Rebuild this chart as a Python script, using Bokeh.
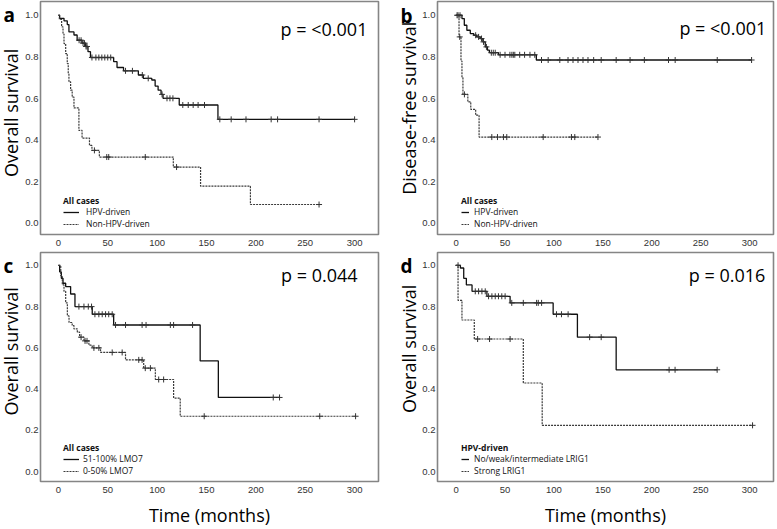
import numpy as np
from bokeh.plotting import figure
from bokeh.models import Label, Legend, LegendItem, FixedTicker, PrintfTickFormatter, Range1d
from bokeh.layouts import column, row
from bokeh.embed import file_html
from bokeh.resources import INLINE

# ---------------- data (months, survival proportion) ----------------
x_ticks = [0, 50, 100, 150, 200, 250, 300]
y_ticks = [0.0, 0.2, 0.4, 0.6, 0.8, 1.0]

# Panel a: overall survival, all cases
a_hpv_t = [0, 1.3, 5.7, 9, 10.7, 15.8, 19, 24, 27.5, 30, 32.5, 56, 59.4, 66, 81, 86, 94.6, 98, 101, 104, 106, 122.4, 161.6]
a_hpv_s = [1.0, 0.985, 0.973, 0.955, 0.92, 0.905, 0.88, 0.866, 0.85, 0.825, 0.797, 0.777, 0.749, 0.733, 0.713, 0.697, 0.689, 0.66, 0.64, 0.62, 0.601, 0.569, 0.50]
a_hpv_c = [21, 23, 25, 26.5, 28, 29, 34, 38, 41, 44, 47, 50, 53, 68, 75, 85, 91, 105, 110, 113, 116, 126, 131.5, 136.5, 141.5, 148, 163.5, 175, 190, 215.5, 222, 264, 300]
a_non_t = [0, 1, 3.3, 4.7, 5.7, 7.4, 9, 10, 10.7, 12.4, 14, 15.8, 20.8, 24, 31.5, 34, 41.5, 116.4, 144, 194.5]
a_non_s = [1.0, 0.98, 0.944, 0.91, 0.864, 0.816, 0.768, 0.72, 0.68, 0.64, 0.607, 0.555, 0.447, 0.41, 0.375, 0.351, 0.319, 0.271, 0.179, 0.091]
a_non_c = [36.5, 49, 51, 88, 119.7, 264]

# Panel b: disease-free survival, all cases
b_hpv_t = [0, 6, 8.4, 11, 14.5, 18, 21, 24.7, 27.4, 29.8, 32, 34, 43.3, 82]
b_hpv_s = [1.0, 0.984, 0.952, 0.928, 0.912, 0.904, 0.896, 0.888, 0.872, 0.848, 0.832, 0.82, 0.81, 0.785]
b_hpv_c = [2, 4, 20, 23, 26, 28, 31, 36, 38, 40, 45, 50, 55, 57, 58.5, 60, 65, 70, 75.5, 80.4, 87.3, 94.1, 106, 114.4, 119.5, 124.6, 129.7, 134.8, 140.6, 148.3, 163.6, 177.8, 192.4, 217.1, 223.9, 266.9, 302]
b_non_t = [0, 3, 5, 6, 7, 12, 15, 20, 23.5]
b_non_s = [1.0, 0.896, 0.78, 0.70, 0.62, 0.584, 0.548, 0.52, 0.415]
b_non_c = [1, 3.7, 8.5, 36.5, 42.3, 48.4, 51.8, 89, 117.9, 121.3, 145]

# Panel c: overall survival by LMO7
c_hi_t = [0, 1.3, 3, 4.7, 7.4, 12.4, 16.8, 34.3, 56, 143.6, 162]
c_hi_s = [1.0, 0.968, 0.937, 0.913, 0.897, 0.861, 0.80, 0.763, 0.711, 0.537, 0.36]
c_hi_c = [20.8, 25.9, 30.3, 33.6, 37, 41, 44.4, 47.8, 51, 54.5, 57.9, 68, 84.8, 88.8, 113.4, 116.7, 135.9, 217.6, 224]
c_lo_t = [0, 2.4, 4, 5.7, 7.4, 9.1, 10.8, 14, 15.8, 19.2, 21.5, 25.9, 30.9, 34.3, 42.7, 68, 86.4, 98.2, 116.7, 123.4]
c_lo_s = [1.0, 0.95, 0.905, 0.874, 0.818, 0.755, 0.723, 0.708, 0.692, 0.676, 0.652, 0.634, 0.613, 0.60, 0.578, 0.542, 0.502, 0.447, 0.357, 0.269]
c_lo_c = [23, 27, 29, 36, 41, 54.5, 64.6, 81.4, 84.8, 88, 93.2, 101.6, 106.6, 147.7, 264.7, 301]

# Panel d: overall survival by LRIG1, HPV-driven
d_lo_t = [0, 4.4, 7.8, 10.5, 16.3, 31.5, 55.2, 99.2, 124, 163.6]
d_lo_s = [1.0, 0.987, 0.937, 0.905, 0.874, 0.85, 0.818, 0.763, 0.652, 0.494]
d_lo_c = [2, 19.6, 23, 26.4, 29.8, 33.2, 36.6, 40, 43.3, 46.7, 50.1, 56.9, 68.7, 82.3, 84, 87.4, 102.6, 107.7, 114.5, 136.5, 148.3, 217.7, 223.8, 266.8]
d_st_t = [0, 2, 6, 18.6, 68.7, 88]
d_st_s = [1.0, 0.83, 0.735, 0.643, 0.43, 0.225]
d_st_c = [22, 34.2, 55.2, 303]

FONT = "Open Sans"
TICKFONT = "Liberation Sans"


def step_xy(t, s, c):
    x = list(t)
    y = list(s)
    end = max(c)
    if end > x[-1]:
        x.append(end)
        y.append(y[-1])
    return x, y


def cens_y(t, s, c):
    idx = np.searchsorted(np.array(t), np.array(c), side="right") - 1
    return list(np.array(s)[idx])


def side_panel(w, h, letter, letter_x, letter_y, ylabel, ylab_x, ylab_y):
    """Narrow strip left of a panel holding the panel letter and the y-axis title."""
    s = figure(width=w, height=h, output_backend="svg", toolbar_location=None, title=None,
               x_range=Range1d(0, w), y_range=Range1d(0, h),
               x_axis_type=None, y_axis_type=None,
               min_border_left=0, min_border_right=0, min_border_top=0, min_border_bottom=0)
    s.outline_line_color = None
    s.background_fill_color = "white"
    s.border_fill_color = "white"
    s.add_layout(Label(x=letter_x, y=letter_y, text=letter, text_align="left",
                       text_baseline="alphabetic", text_font=FONT, text_font_size="19px",
                       text_font_style="bold", text_color="black"))
    s.add_layout(Label(x=ylab_x, y=ylab_y, text=ylabel, angle=90, angle_units="deg",
                       text_align="center", text_baseline="middle",
                       text_font=FONT, text_font_size="18px", text_color="black"))
    return s


def make_panel(pval, pv_x, pv_y, leg_title, names, curves, width, height, borders,
               x_range, y_range, glyph_w, lbl_standoff, leg_loc, xlabel):
    p = figure(width=width, height=height, output_backend="svg", toolbar_location=None,
               title=None, x_range=Range1d(*x_range), y_range=Range1d(*y_range),
               min_border_left=borders[0], min_border_right=borders[1],
               min_border_top=borders[2], min_border_bottom=borders[3])
    p.outline_line_color = "#858585"
    p.outline_line_width = 1.6
    p.xgrid.visible = False
    p.ygrid.visible = False
    p.background_fill_color = "white"
    p.border_fill_color = "white"

    for ax in (p.xaxis, p.yaxis):
        ax.axis_line_color = None
        ax.major_tick_line_color = None
        ax.minor_tick_line_color = None
        ax.major_tick_out = 0
        ax.major_tick_in = 0
        ax.major_label_text_font = TICKFONT
        ax.major_label_text_font_size = "9.5px"
        ax.major_label_text_color = "#333333"
    p.xaxis.ticker = FixedTicker(ticks=x_ticks)
    p.yaxis.ticker = FixedTicker(ticks=y_ticks)
    p.yaxis.formatter = PrintfTickFormatter(format="%.1f")
    p.xaxis.major_label_standoff = 5
    p.yaxis.major_label_standoff = 2
    if xlabel:
        p.xaxis.axis_label = xlabel
        p.xaxis.axis_label_text_font = FONT
        p.xaxis.axis_label_text_font_size = "18px"
        p.xaxis.axis_label_text_font_style = "normal"
        p.xaxis.axis_label_text_color = "black"
        p.xaxis.axis_label_standoff = 7

    items = []
    styles = [dict(line_color="#111111", line_width=1.3, line_dash="solid"),
              dict(line_color="#3a3a3a", line_width=1.2, line_dash="2 1")]
    for (t, s, c), name, st in zip(curves, names, styles):
        x, y = step_xy(t, s, c)
        r = p.step(x=x, y=y, mode="after", **st)
        p.scatter(x=c, y=cens_y(t, s, c), marker="cross", size=6, line_width=1,
                  line_color="#333333")
        items.append(LegendItem(label=name, renderers=[r]))

    leg = Legend(items=items, title=leg_title, location=leg_loc,
                 padding=0, margin=0, spacing=1,
                 glyph_width=glyph_w, glyph_height=10, label_height=10,
                 label_standoff=lbl_standoff,
                 label_text_font=FONT, label_text_font_size="8.5px",
                 label_text_color="#111111",
                 title_text_font=FONT, title_text_font_size="8.5px",
                 title_text_font_style="bold", title_text_color="#111111",
                 title_standoff=0,
                 background_fill_alpha=0, border_line_alpha=0)
    p.add_layout(leg)

    p.add_layout(Label(x=pv_x, y=pv_y, text=pval, text_align="right", text_baseline="middle",
                       text_font=FONT, text_font_size="18px", text_color="black"))
    return p


XL = (-18.1, 324.2)
XR = (-19.0, 324.4)
YT = (-0.053, 1.066)
YB = (-0.047, 1.062)

sa = side_panel(22, 251, "a", 3, 236, "Overall survival", 10, 131)
pa = make_panel("p = <0.001", 313, 0.936, "All cases", ["HPV-driven", "Non-HPV-driven"],
                [(a_hpv_t, a_hpv_s, a_hpv_c), (a_non_t, a_non_s, a_non_c)],
                366, 251, (16, 10, 1, 17), XL, YT, 16, 7, (23, 5), None)
sb = side_panel(31, 251, "b", 12, 235, "Disease-free survival", 20, 136)
pb = make_panel("p = <0.001", 317, 0.94, "All cases", ["HPV-driven", "Non-HPV-driven"],
                [(b_hpv_t, b_hpv_s, b_hpv_c), (b_non_t, b_non_s, b_non_c)],
                358, 251, (16, 4, 1, 17), XR, YT, 8, 5, (24, 5), None)
sc = side_panel(22, 278, "c", 3, 262, "Overall survival", 10.5, 158)
pc = make_panel("p = 0.044", 303, 0.953, "All cases", ["51-100% LMO7", "0-50% LMO7"],
                [(c_hi_t, c_hi_s, c_hi_c), (c_lo_t, c_lo_s, c_lo_c)],
                366, 278, (16, 10, 1, 43), XL, YB, 16, 4, (23, 5), "Time (months)")
sd = side_panel(31, 278, "d", 12, 262, "Overall survival", 20, 161)
pd_ = make_panel("p = 0.016", 316, 0.953, "HPV-driven", ["No/weak/intermediate LRIG1", "Strong LRIG1"],
                 [(d_lo_t, d_lo_s, d_lo_c), (d_st_t, d_st_s, d_st_c)],
                 358, 278, (16, 4, 1, 43), XR, YB, 8, 5, (24, 5), "Time (months)")

layout = column(row(sa, pa, sb, pb), row(sc, pc, sd, pd_))
open("out.html", "w").write(file_html(layout, INLINE))
